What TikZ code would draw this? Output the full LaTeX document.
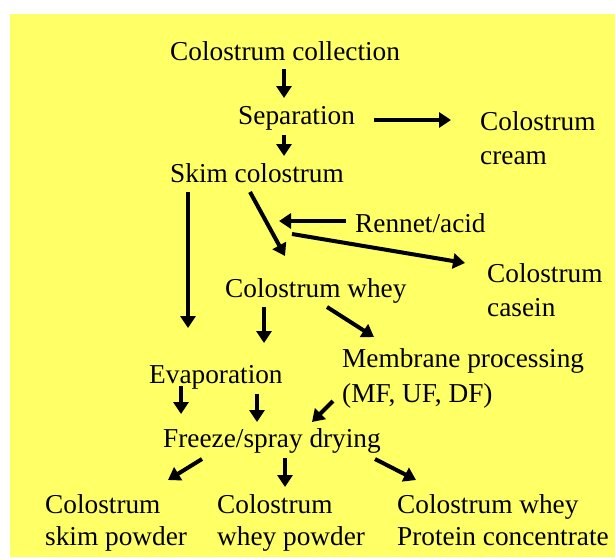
\documentclass[tikz,border=0pt]{standalone}
\usepackage{fontspec}
\setmainfont{Liberation Serif}
\usetikzlibrary{arrows.meta}
\definecolor{bg}{HTML}{FFFF66}
\newcommand{\twoline}[2]{\begin{tabular}[t]{@{}l@{}}#1\\#2\end{tabular}}
\begin{document}
\begin{tikzpicture}[x=1pt,y=-1pt,
  lbl/.style={anchor=base west, inner sep=0pt, font=\fontsize{27.3}{34}\selectfont},
  arr/.style={line width=4pt, -{Triangle[length=12pt,width=15pt]}}]
\useasboundingbox (0,0) rectangle (615,557);
\fill[bg] (10,14) rectangle (615,557);
% nodes
\node[lbl] (coll) at (170,60) {Colostrum collection};
\node[lbl] (sep) at (238,124) {Separation};
\node[lbl] (cream) at (480,130) {\twoline{Colostrum}{cream}};
\node[lbl] (skim) at (170,182) {Skim colostrum};
\node[lbl] (rennet) at (355,232) {Rennet/acid};
\node[lbl] (casein) at (487,282) {\twoline{Colostrum}{casein}};
\node[lbl] (whey) at (225,297) {Colostrum whey};
\node[lbl, font=\fontsize{27.3}{35}\selectfont] (memb) at (342,367) {\twoline{Membrane processing}{(MF, UF, DF)}};
\node[lbl] (evap) at (149,383) {Evaporation};
\node[lbl] (fsd) at (163,447) {Freeze/spray drying};
\node[lbl, font=\fontsize{27.3}{32.5}\selectfont] (skp) at (45,513) {\twoline{Colostrum}{skim powder}};
\node[lbl, font=\fontsize{27.3}{32.5}\selectfont] (wp) at (217,513) {\twoline{Colostrum}{whey powder}};
\node[lbl, font=\fontsize{27.3}{32.5}\selectfont] (wpc) at (397,513) {\twoline{Colostrum whey}{Protein concentrate}};
% connector end points
\coordinate (c1a) at (284,69);  \coordinate (c1b) at (284,98);
\coordinate (c2a) at (284,135); \coordinate (c2b) at (284,156);
\coordinate (c3a) at (374,120); \coordinate (c3b) at (451,120);
\coordinate (c4a) at (188,192); \coordinate (c4b) at (188,328);
\coordinate (c5a) at (250,192); \coordinate (c5b) at (285,256);
\coordinate (c6a) at (346,221); \coordinate (c6b) at (279,221);
\coordinate (c7a) at (292,234); \coordinate (c7b) at (465,263);
\coordinate (c8a) at (264,307); \coordinate (c8b) at (264,343);
\coordinate (c9a) at (327,307); \coordinate (c9b) at (374,337);
\coordinate (c10a) at (181,386); \coordinate (c10b) at (181,414);
\coordinate (c11a) at (257,394); \coordinate (c11b) at (257,422);
\coordinate (c12a) at (333,401); \coordinate (c12b) at (312,422);
\coordinate (c13a) at (202,459); \coordinate (c13b) at (168,480);
\coordinate (c14a) at (285,458); \coordinate (c14b) at (285,487);
\coordinate (c15a) at (375,459); \coordinate (c15b) at (416,480);
% connectors
\draw[arr] (c1a) -- (c1b);
\draw[arr] (c2a) -- (c2b);
\draw[arr] (c3a) -- (c3b);
\draw[arr] (c4a) -- (c4b);
\draw[arr] (c5a) -- (c5b);
\draw[arr] (c6a) -- (c6b);
\draw[arr] (c7a) -- (c7b);
\draw[arr] (c8a) -- (c8b);
\draw[arr] (c9a) -- (c9b);
\draw[arr] (c10a) -- (c10b);
\draw[arr] (c11a) -- (c11b);
\draw[arr] (c12a) -- (c12b);
\draw[arr] (c13a) -- (c13b);
\draw[arr] (c14a) -- (c14b);
\draw[arr] (c15a) -- (c15b);
\end{tikzpicture}
\end{document}
